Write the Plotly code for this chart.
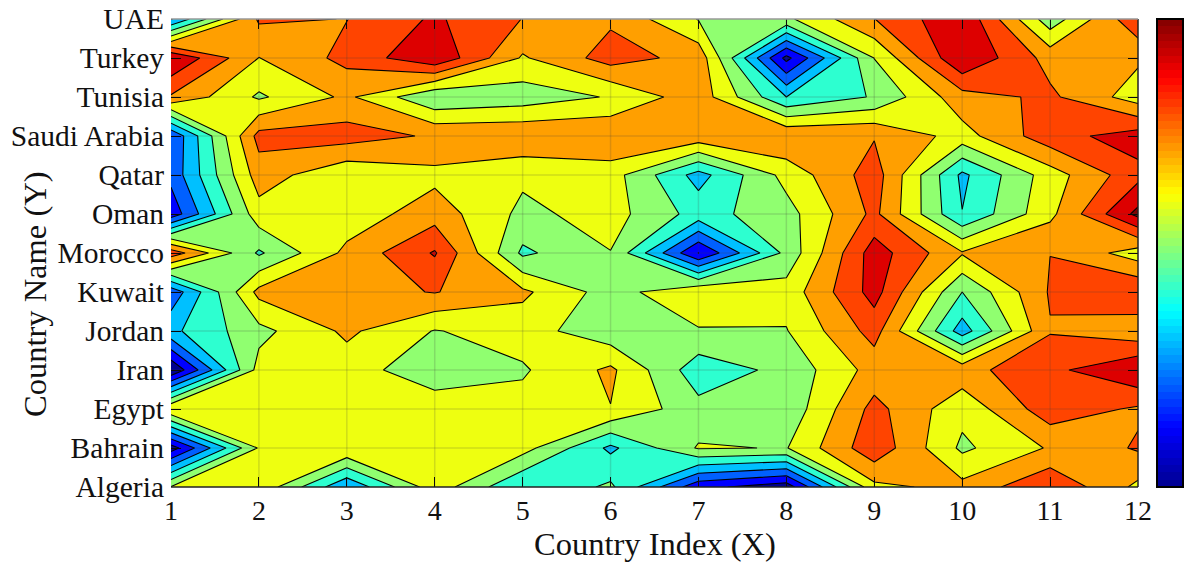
import plotly.graph_objects as go

countries = ["Algeria", "Bahrain", "Egypt", "Iran", "Jordan", "Kuwait", "Morocco",
             "Oman", "Qatar", "Saudi Arabia", "Tunisia", "Turkey", "UAE"]
x_index = [1, 2, 3, 4, 5, 6, 7, 8, 9, 10, 11, 12]
y_index = list(range(1, 14))

algeria = [6.05, 6.8, 3.1, 6.6, 4.0, 5.2, 1.3, 0.4, 6.75, 7.3, 8.88, 6.76]
bahrain = [0.5, 6.1, 6.95, 6.7, 6.4, 3.78, 6.1, 5.95, 8.7, 5.8, 7.1, 8.12]
egypt = [6.95, 6.6, 6.6, 6.65, 6.36, 6.97, 5.32, 5.3, 8.33, 6.3, 8.6, 7.85]
iran = [0.05, 6.37, 6.5, 5.3, 5.88, 7.2, 4.4, 5.29, 7.4, 7.65, 8.74, 9.95]
jordan = [3.76, 5.7, 7.2, 5.95, 6.45, 5.33, 5.9, 5.95, 8.4, 3.5, 7.93, 7.3]
kuwait = [2.3, 7.3, 7.6, 8.05, 7.2, 5.55, 6.9, 6.4, 9.4, 5.0, 8.1, 8.95]
morocco = [8.6, 4.85, 7.25, 9.1, 4.8, 5.97, 0.98, 5.3, 9.5, 7.09, 7.99, 6.5]
oman = [1.35, 6.6, 6.4, 7.55, 5.75, 6.41, 4.6, 5.6, 8.25, 4.03, 6.74, 10.3]
qatar = [2.3, 7.5, 6.2, 6.72, 6.2, 6.45, 3.6, 6.35, 8.5, 3.78, 6.52, 8.68]
saudi_arabia = [2.1, 8.35, 8.45, 7.87, 7.9, 7.95, 7.7, 7.95, 7.93, 6.6, 8.6, 9.48]
tunisia = [7.88, 5.85, 7.2, 5.1, 5.44, 6.08, 7.6, 4.0, 5.1, 7.6, 8.2, 6.5]
turkey = [9.98, 6.98, 8.3, 9.85, 6.88, 8.44, 7.65, 0.7, 6.02, 9.95, 7.63, 7.17]
uae = [2.9, 8.15, 7.98, 9.15, 7.98, 7.83, 5.95, 5.8, 7.98, 9.87, 5.4, 8.8]

z_rows = [algeria, bahrain, egypt, iran, jordan, kuwait, morocco, oman, qatar,
          saudi_arabia, tunisia, turkey, uae]

band_colors = ["#00008f", "#0000ff", "#0060ff", "#00c0ff", "#2dffd0", "#90ff70",
               "#eeff10", "#ff9f00", "#ff4400", "#dd0000", "#800000"]
band_scale = [[i / (len(band_colors) - 1), c] for i, c in enumerate(band_colors)]

FONT = "Liberation Serif"


def jet(t):
    stops = [(0.0, (0, 0, 143)), (0.125, (0, 0, 255)), (0.375, (0, 255, 255)),
             (0.625, (255, 255, 0)), (0.875, (255, 0, 0)), (1.0, (128, 0, 0))]
    for (a, ca), (b, cb) in zip(stops, stops[1:]):
        if t <= b:
            f = (t - a) / (b - a)
            return "rgb(%d,%d,%d)" % tuple(round(p + (q - p) * f) for p, q in zip(ca, cb))
    return "rgb(128,0,0)"


bins = 64
bar_scale = []
for i in range(bins):
    col = jet((i + 0.5) / bins)
    bar_scale.append([i / bins, col])
    bar_scale.append([(i + 1) / bins, col])

AREA_W = 1186 - 171 - 1  # pixels that the x domain fractions refer to
DOMAIN_END = (1138 - 171) / AREA_W

fig = go.Figure()
fig.add_trace(go.Contour(
    x=x_index, y=y_index, z=z_rows,
    colorscale=band_scale, showscale=False, hoverinfo="skip",
    autocontour=False,
    contours=dict(start=1, end=10, size=1, coloring="fill"),
    line=dict(color="black", width=1.1, smoothing=0),
))
fig.add_trace(go.Scatter(
    x=[None], y=[None], mode="markers", showlegend=False,
    marker=dict(color=[0], cmin=0, cmax=1, colorscale=bar_scale, showscale=True,
                colorbar=dict(x=(1157 - 171) / AREA_W, xanchor="left", xpad=0, ypad=0,
                              y=0.5, yanchor="middle", len=1, lenmode="fraction",
                              thickness=26, thicknessmode="pixels",
                              outlinecolor="black", outlinewidth=2,
                              ticks="", showticklabels=False),
                ),
))

grid = dict(type="line", layer="above", line=dict(color="rgba(60,60,60,0.18)", width=1.5))
shapes = []
for v in x_index[1:-1]:
    shapes.append(dict(grid, xref="x", yref="paper", x0=v, x1=v, y0=0, y1=1))
for v in y_index[1:-1]:
    shapes.append(dict(grid, xref="x domain", yref="y", x0=0, x1=1, y0=v, y1=v))
shapes.append(dict(type="line", xref="x domain", yref="paper", x0=0, x1=1, y0=0, y1=0,
                   line=dict(color="#222222", width=1.5)))
shapes.append(dict(type="line", xref="x domain", yref="paper", x0=1, x1=1, y0=0, y1=1,
                   line=dict(color="#222222", width=1.5)))
shapes.append(dict(type="line", xref="x domain", yref="paper", x0=0, x1=1, y0=1, y1=1,
                   line=dict(color="#999999", width=1.5)))

annotations = [
    dict(text="Country Index (X)", xref="paper", yref="paper", showarrow=False,
         x=(655 - 171) / AREA_W, y=-(544 - 487) / 468, xanchor="center", yanchor="middle",
         font=dict(family=FONT, size=32.5, color="#111111")),
    dict(text="Country Name (Y)", xref="paper", yref="paper", showarrow=False, textangle=-90,
         x=(35 - 171) / AREA_W, y=(487 - 294) / 468, xanchor="center", yanchor="middle",
         font=dict(family=FONT, size=32.5, color="#111111")),
]

fig.update_layout(
    width=1186, height=562, autosize=False,
    margin=dict(l=171, r=1, t=19, b=75, pad=0),
    paper_bgcolor="white", plot_bgcolor="white",
    font=dict(family=FONT, color="#111111"),
    shapes=shapes, annotations=annotations, showlegend=False,
    xaxis=dict(domain=[0, DOMAIN_END], range=[1, 12], tickvals=x_index,
               ticktext=[str(v) for v in x_index],
               ticks="inside", ticklen=10, tickwidth=1.2, tickcolor="black", mirror="ticks",
               showgrid=False, zeroline=False, showline=False, automargin=False,
               ticklabelstandoff=4, tickfont=dict(family=FONT, size=28)),
    yaxis=dict(range=[1, 13], tickvals=y_index, ticktext=countries,
               ticks="inside", ticklen=10, tickwidth=1.2, tickcolor="black", mirror="ticks",
               showgrid=False, zeroline=False, showline=False, automargin=False,
               ticklabelstandoff=6, tickfont=dict(family=FONT, size=29.5)),
)

fig.write_html("out.html", config=dict(displayModeBar=False),
               post_script="document.body.style.margin='0';document.documentElement.style.overflow='hidden';")
